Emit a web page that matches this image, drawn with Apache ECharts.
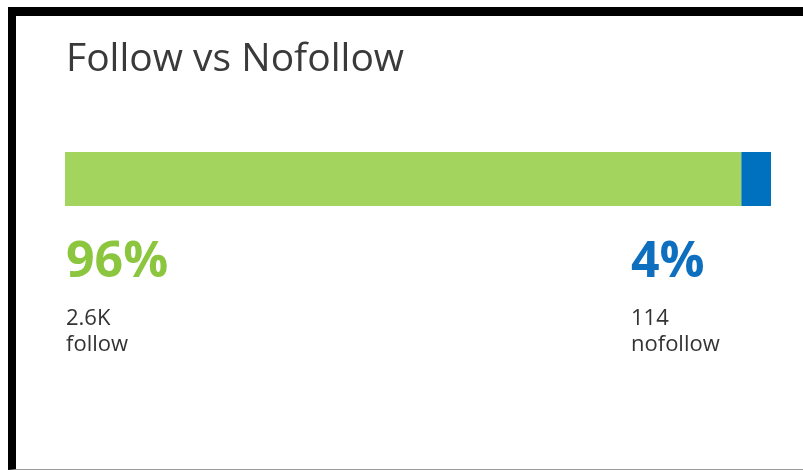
<!DOCTYPE html>
<html>
<head>
<meta charset="utf-8">
<script src="https://cdn.jsdelivr.net/npm/echarts@6/dist/echarts.min.js"></script>
<style>
  html, body { margin: 0; padding: 0; background: #fff; }
  #frame {
    position: absolute; left: 8px; top: 7px; width: 795px; height: 463px;
    box-sizing: border-box;
    border-top: 9px solid #000; border-left: 8px solid #000;
    border-bottom: 1px solid #9a9a9a;
  }
  #chart { position: absolute; left: 0; top: 0; width: 803px; height: 470px; }
</style>
</head>
<body>
<div id="frame"></div>
<div id="chart"></div>
<script>
// 数据
var categories = ['follow', 'nofollow'];
var counts = [2600, 114];
var countLabels = ['2.6K', '114'];
var colors = ['#a2d45e', '#0071bf'];
var textColors = ['#8cc63f', '#0f6fbf'];

var total = counts[0] + counts[1];
var percents = counts.map(function (v) { return Math.round(v / total * 100) + '%'; });

var chart = echarts.init(document.getElementById('chart'));

// 文字块
var labelX = [66, 631];
var graphics = [{
  type: 'text', left: 66, top: 40,
  style: { text: 'Follow vs Nofollow', font: '39px "Open Sans"', fill: '#3a3a3a' }
}];
categories.forEach(function (c, i) {
  graphics.push({
    type: 'text', left: labelX[i], top: 238,
    style: { text: percents[i], font: 'bold 50px "Open Sans"', fill: textColors[i] }
  });
  graphics.push({
    type: 'text', left: labelX[i], top: 306,
    style: { text: countLabels[i] + '\n' + c, font: '22px "Open Sans"', fill: '#333', lineHeight: 26 }
  });
});

chart.setOption({
  animation: false,
  grid: { left: 65, right: 32, top: 152, height: 54 },
  xAxis: { type: 'value', min: 0, max: total, show: false },
  yAxis: { type: 'category', data: ['links'], show: false },
  graphic: graphics,
  series: categories.map(function (c, i) {
    return {
      name: c, type: 'bar', stack: 'all', barWidth: 54,
      itemStyle: { color: colors[i] },
      data: [counts[i]]
    };
  })
});
</script>
</body>
</html>
